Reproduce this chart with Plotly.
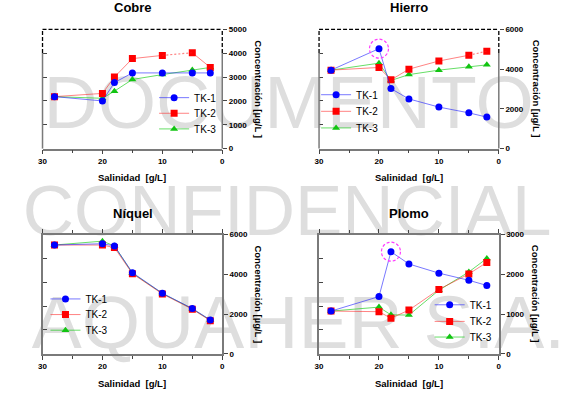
import plotly.graph_objects as go

# ---------------- data ----------------
salinidad = [28, 20, 18, 15, 10, 5, 2]
x_ticks = [30, 20, 10, 0]
x_minor = [25, 15, 5]

cobre_tk1 = [2180, 2000, 2770, 3175, 3175, 3175, 3175]
cobre_tk2 = [2180, 2315, 3000, 3775, 3910, 4020, 3405]
cobre_tk3 = [2180, 2110, 2410, 2900, 3105, 3300, 3405]

hierro_tk1 = [3950, 5030, 3020, 2500, 2090, 1800, 1585]
hierro_tk2 = [3950, 4085, 3460, 4000, 4410, 4700, 4900]
hierro_tk3 = [3950, 4300, 3430, 3725, 3950, 4115, 4215]

niquel_tk1 = [5475, 5540, 5430, 4085, 3050, 2280, 1705]
niquel_tk2 = [5475, 5475, 5345, 4035, 3015, 2245, 1670]
niquel_tk3 = [5475, 5670, 5430, 4060, 3040, 2265, 1690]

plomo_tk1 = [1075, 1440, 2570, 2260, 2030, 1850, 1720]
plomo_tk2 = [1075, 1060, 895, 1100, 1620, 2010, 2300]
plomo_tk3 = [1075, 1175, 980, 975, 1600, 2060, 2400]

series_names = ["TK-1", "TK-2", "TK-3"]
x_title = "Salinidad  [g/L]"
y_title = "Concentración [µg/L ]"
watermark = ["DOCUMENTO", "CONFIDENCIAL", "AQUAHER S.A."]

# ---------------- layout helpers ----------------
W, H = 566, 393
FONT = "Liberation Sans, Arial, sans-serif"


def fx(p):
    return p / W


def fy(p):
    return 1 - p / H


panels = [
    dict(title="Cobre", data=[cobre_tk1, cobre_tk2, cobre_tk3], ymax=5000, dtick=1000,
         px=(39, 221), py=(26, 148), top_dashed=True, dotted=(4, 5), highlight=None,
         leg_x=192, leg_y=(97, 113, 129), tx=131, ty=4, xt_y=178, yt=(258, 87)),
    dict(title="Hierro", data=[hierro_tk1, hierro_tk2, hierro_tk3], ymax=6000, dtick=2000,
         px=(319, 501), py=(26, 148), top_dashed=True, dotted=(5, 6), highlight=1,
         leg_x=356, leg_y=(94, 111, 128), tx=410, ty=4, xt_y=178, yt=(540, 87)),
    dict(title="Níquel", data=[niquel_tk1, niquel_tk2, niquel_tk3], ymax=6000, dtick=2000,
         px=(39, 221), py=(236, 358), top_dashed=False, dotted=None, highlight=None,
         leg_x=82, leg_y=(303, 319, 335), tx=131, ty=214, xt_y=388, yt=(258, 297)),
    dict(title="Plomo", data=[plomo_tk1, plomo_tk2, plomo_tk3], ymax=3000, dtick=1000,
         px=(319, 501), py=(236, 358), top_dashed=False, dotted=None, highlight=2,
         leg_x=471, leg_y=(309, 326, 342), tx=410, ty=214, xt_y=388, yt=(538, 297)),
]

styles = [
    dict(symbol="circle", mcolor="#0000ff", lcolor="rgba(30,30,255,0.6)", size=7),
    dict(symbol="square", mcolor="#ff0000", lcolor="rgba(255,30,30,0.55)", size=7),
    dict(symbol="triangle-up", mcolor="#12c412", lcolor="rgba(0,200,0,0.6)", size=7),
]

fig = go.Figure()
layout = {}
shapes = []
annotations = []

AXIS_GRAY = "#7a7a7a"
tickfont = dict(size=8, family=FONT, color="black", weight="bold")
LEG_TEXT_OFFSET = 40
LEG_CENTER_OFFSET = 16

leg_counter = 0
for i, p in enumerate(panels, 1):
    xa = "x" if i == 1 else f"x{i}"
    ya = "y" if i == 1 else f"y{i}"
    ya2 = f"y{i + 4}"

    # traces: TK-3 first so TK-1 ends on top
    for k in [2, 1, 0]:
        st = styles[k]
        ys = p["data"][k]
        xs = list(salinidad)
        yv = list(ys)
        dot = None
        if k == 1 and p["dotted"] is not None:
            a, b = p["dotted"]
            xs = salinidad[:b] + [None] + salinidad[b:]
            yv = ys[:b] + [None] + ys[b:]
            dot = (salinidad[a:b + 1], ys[a:b + 1])
        leg_counter += 1
        leg = "legend" if leg_counter == 1 else f"legend{leg_counter}"
        fig.add_trace(go.Scatter(
            x=xs, y=yv, mode="lines+markers", name=series_names[k],
            xaxis=xa, yaxis=ya, legend=leg, connectgaps=False,
            line=dict(color=st["lcolor"], width=1),
            marker=dict(symbol=st["symbol"], color=st["mcolor"], size=st["size"],
                        line=dict(width=0)),
            hoverinfo="skip",
        ))
        layout[leg] = dict(
            x=fx(p["leg_x"] - LEG_TEXT_OFFSET), y=fy(p["leg_y"][k] - LEG_CENTER_OFFSET),
            xanchor="left", yanchor="top", xref="paper", yref="paper",
            bgcolor="rgba(0,0,0,0)", borderwidth=0,
            font=dict(size=10, family=FONT, color="black"), itemwidth=30,
        )
        if dot is not None:
            fig.add_trace(go.Scatter(
                x=dot[0], y=dot[1], mode="lines", showlegend=False,
                xaxis=xa, yaxis=ya,
                line=dict(color=st["lcolor"], width=1.2, dash="2px,2px"),
                hoverinfo="skip",
            ))
    # dummy trace for left tick overlay axis
    fig.add_trace(go.Scatter(x=[None], y=[None], xaxis=xa, yaxis=ya2,
                             showlegend=False, hoverinfo="skip"))

    xk = "xaxis" if i == 1 else f"xaxis{i}"
    yk = "yaxis" if i == 1 else f"yaxis{i}"
    yk2 = f"yaxis{i + 4}"
    xdom = [fx(p["px"][0]), fx(p["px"][1])]
    ydom = [fy(p["py"][1]), fy(p["py"][0])]

    layout[xk] = dict(
        domain=xdom, anchor=ya, range=[30, 0], tickvals=x_ticks,
        ticks="outside", ticklen=4, tickwidth=1, tickcolor="#444",
        minor=dict(tickvals=x_minor, ticks="outside", ticklen=3, tickcolor="#444"),
        showline=True, linecolor=AXIS_GRAY, linewidth=1.5,
        mirror=False if p["top_dashed"] else "ticks",
        showgrid=False, zeroline=False, tickfont=tickfont,
    )
    layout[yk] = dict(
        domain=ydom, anchor=xa, side="right", range=[0, p["ymax"]], dtick=p["dtick"],
        ticks="outside", ticklen=4, tickwidth=1, tickcolor="#444",
        showline=not p["top_dashed"], linecolor=AXIS_GRAY, linewidth=1.5,
        mirror=False if p["top_dashed"] else True,
        showgrid=False, zeroline=False, tickfont=tickfont,
    )
    layout[yk2] = dict(
        overlaying=ya, anchor=xa, side="left", range=[0, 5], tickvals=[1, 2, 3, 4],
        ticks="inside", ticklen=4, tickwidth=1, tickcolor="#444",
        showticklabels=False, showline=False, showgrid=False, zeroline=False,
    )

    if p["top_dashed"]:
        split = 0.803
        xr, yr = f"{xa} domain", f"{ya} domain"
        for xv in (0, 1):
            shapes.append(dict(type="line", xref=xr, yref=yr, x0=xv, x1=xv, y0=0, y1=split,
                               line=dict(color=AXIS_GRAY, width=1.5)))
            shapes.append(dict(type="line", xref=xr, yref=yr, x0=xv, x1=xv, y0=split, y1=1,
                               line=dict(color="black", width=1.3, dash="4px,2px")))
        shapes.append(dict(type="line", xref=xr, yref=yr, x0=0, x1=1, y0=1, y1=1,
                           line=dict(color="black", width=1.3, dash="4px,2px")))

    if p["highlight"] is not None:
        h = p["highlight"]
        shapes.append(dict(type="circle", xref=xa, yref=ya, xsizemode="pixel",
                           ysizemode="pixel", xanchor=salinidad[h], yanchor=p["data"][0][h],
                           x0=-9.5, x1=9.5, y0=-9.5, y1=9.5,
                           line=dict(color="#ff3cff", width=1.2, dash="3px,2px")))

    annotations.append(dict(text=f"<b>{p['title']}</b>", x=fx(p["tx"]), y=fy(p["ty"]),
                            xref="paper", yref="paper", showarrow=False,
                            xanchor="center", yanchor="middle",
                            font=dict(size=13, family=FONT, color="black")))
    annotations.append(dict(text=f"<b>{x_title}</b>",
                            x=fx((p["px"][0] + p["px"][1]) / 2), y=fy(p["xt_y"]),
                            xref="paper", yref="paper", showarrow=False,
                            xanchor="center", yanchor="middle",
                            font=dict(size=9.5, family=FONT, color="black")))
    annotations.append(dict(text=f"<b>{y_title}</b>", x=fx(p["yt"][0]), y=fy(p["yt"][1]),
                            xref="paper", yref="paper", showarrow=False, textangle=90,
                            xanchor="center", yanchor="middle",
                            font=dict(size=9.5, family=FONT, color="black")))

# watermark rows (drawn below the plots via shape labels): left, cap top, cap bottom, size
wm_rows = [(37, 75, 131, 75), (16, 187, 242, 71), (25, 300, 357, 75)]
WM_SHIFT = 10
for txt, (x0, ytop, ybot, fsize) in zip(watermark, wm_rows):
    shapes.insert(0, dict(type="rect", xref="paper", yref="paper", layer="below",
                          x0=fx(x0), x1=fx(x0 + 560),
                          y0=fy(ybot - WM_SHIFT), y1=fy(ytop - WM_SHIFT),
                          line=dict(width=0), fillcolor="rgba(0,0,0,0)",
                          label=dict(text=txt, textposition="middle left", padding=0,
                                     font=dict(size=fsize, family=FONT, color="#dedede"))))

fig.update_layout(
    width=W, height=H, autosize=False,
    margin=dict(l=0, r=0, t=0, b=0),
    paper_bgcolor="white", plot_bgcolor="rgba(0,0,0,0)",
    showlegend=True, shapes=shapes, annotations=annotations,
    font=dict(family=FONT, color="black"),
    **layout,
)

fig.write_html("out.html", config={"displayModeBar": False},
               post_script="document.body.style.margin='0px';")
